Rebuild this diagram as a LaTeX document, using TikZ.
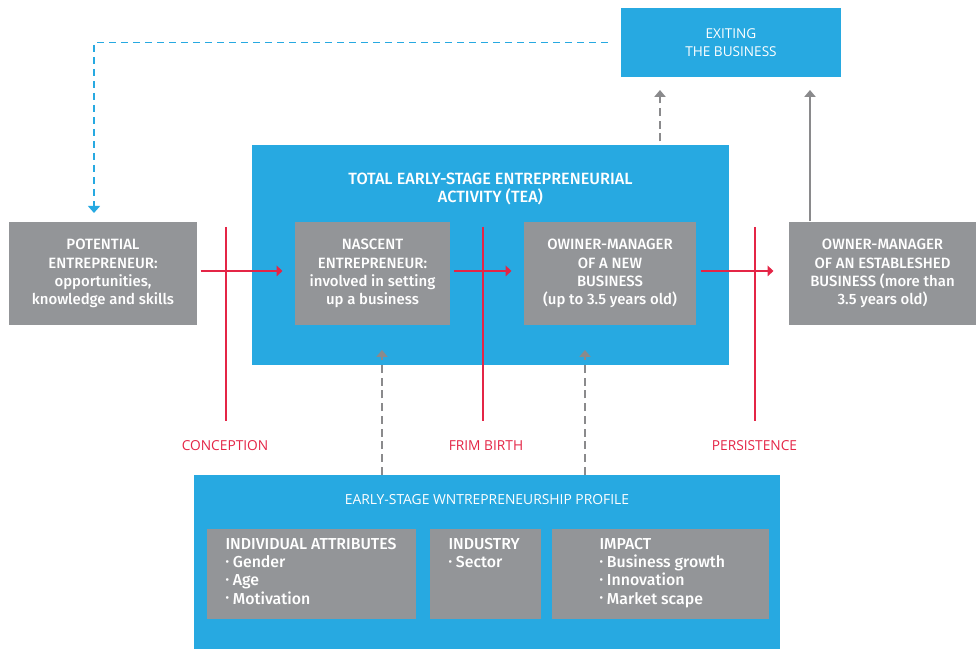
\documentclass[tikz,border=0pt]{standalone}
\usepackage{fontspec}
\setmainfont{Open Sans}
\newfontfamily\boxfont{Fira Sans}[BoldFont={Fira Sans Medium}]
\usepackage{xcolor}
\usetikzlibrary{arrows.meta}
\tikzset{every picture/.style={line width=0.75pt}}
\definecolor{teablue}{RGB}{39,169,225}
\definecolor{boxgray}{RGB}{147,149,152}
\definecolor{stagered}{RGB}{228,37,70}
\definecolor{linkgray}{RGB}{138,138,140}
\newcommand{\itemdot}{\raisebox{0.16em}{\scalebox{0.65}{\textbullet}}\ }

\begin{document}
\begin{tikzpicture}[x=0.75pt,y=0.75pt,yscale=-1,xscale=1,
  bluebox/.style={fill=teablue, inner sep=0pt, text=white, align=center, font=\fontsize{10.2}{13.5}\selectfont},
  graybox/.style={fill=boxgray, inner sep=0pt, text=white, align=center, font=\boxfont\bfseries\fontsize{11.2}{13.7}\selectfont},
  listtext/.style={anchor=north west, inner sep=0pt, text=white, align=left, font=\boxfont\bfseries\fontsize{11.9}{13.6}\selectfont},
  stagetext/.style={text=stagered, font=\fontsize{10.3}{12}\selectfont},
  stageline/.style={draw=stagered, line width=1pt},
  stagearrow/.style={draw=stagered, line width=1pt, -{Triangle[length=4.5pt,width=8pt]}},
  graylink/.style={draw=linkgray, line width=1pt, -{Triangle[length=5.25pt,width=8.5pt]}},
  graydash/.style={graylink, dash pattern=on 6pt off 3.5pt},
  bluedash/.style={draw=teablue, line width=1pt, dash pattern=on 5.25pt off 3.75pt, -{Triangle[length=5.25pt,width=9pt]}}
]
\useasboundingbox (0,0) rectangle (976,649);

% Blue boxes
\node (exit) [bluebox, minimum width=165pt, minimum height=51.75pt] at (731,42.5) {EXITING\\THE BUSINESS};
\node (tea) [bluebox, minimum width=357.75pt, minimum height=165pt] at (490.5,255) {};
\node (teatitle) [bluebox, fill=none, font=\boxfont\bfseries\fontsize{12.2}{13.5}\selectfont] at (490.5,189) {TOTAL EARLY-STAGE ENTREPRENEURIAL\\ACTIVITY (TEA)};
\node (profile) [bluebox, minimum width=439.5pt, minimum height=130.5pt] at (487,562) {};
\node (proftitle) [bluebox, fill=none, font=\fontsize{10.4}{12}\selectfont] at (487,500) {EARLY-STAGE WNTREPRENEURSHIP PROFILE};

% Gray boxes
\node (potential) [graybox, minimum width=141pt, minimum height=77.25pt] at (103,273.5) {POTENTIAL\\ENTREPRENEUR:\\opportunities,\\knowledge and skills};
\node (nascent) [graybox, minimum width=116.25pt, minimum height=77.25pt] at (372.5,273.5) {NASCENT\\ENTREPRENEUR:\\involved in setting\\up a business};
\node (newbiz) [graybox, minimum width=129pt, minimum height=77.25pt] at (610,273.5) {OWINER-MANAGER\\OF A NEW\\BUSINESS\\(up to 3.5 years old)};
\node (established) [graybox, minimum width=140.25pt, minimum height=77.25pt] at (882.5,273.5) {OWNER-MANAGER\\OF AN ESTABLESHED\\BUSINESS (more than\\3.5 years old)};

% Profile boxes
\node (indiv) [graybox, minimum width=156.75pt, minimum height=67.5pt] at (311.5,574) {};
\node (industry) [graybox, minimum width=83.25pt, minimum height=67.5pt] at (485.5,574) {};
\node (impact) [graybox, minimum width=162.75pt, minimum height=67.5pt] at (660.5,574) {};
\node (indivtext) [listtext] at (225,538) {INDIVIDUAL ATTRIBUTES\\\itemdot Gender\\\itemdot Age\\\itemdot Motivation};
\node (industrytext) [listtext] at (448,538) {INDUSTRY\\\itemdot Sector};
\node (impacttext) [listtext] at (599,538) {IMPACT\\\itemdot Business growth\\\itemdot Innovation\\\itemdot Market scape};

% Stage lines
\coordinate (conctop) at (226,227);
\coordinate (birthtop) at (483,227);
\coordinate (persisttop) at (755,227);
\node (conception) [stagetext] at (225,446) {CONCEPTION};
\node (birth) [stagetext] at (486,446) {FRIM BIRTH};
\node (persistence) [stagetext] at (754.5,446) {PERSISTENCE};
\draw [stageline] (conctop) -- (conctop |- 0,421);
\draw [stageline] (birthtop) -- (birthtop |- 0,421);
\draw [stageline] (persisttop) -- (persisttop |- 0,421);

% Stage arrows
\draw [stagearrow, shorten <=2.25pt, shorten >=9pt] ([yshift=-1.9pt]potential.east) -- ([yshift=-1.9pt]nascent.west);
\draw [stagearrow, shorten <=2.25pt, shorten >=9pt] ([yshift=-1.9pt]nascent.east) -- ([yshift=-1.9pt]newbiz.west);
\draw [stagearrow, shorten <=3pt, shorten >=11.25pt] ([yshift=-1.9pt]newbiz.east) -- ([yshift=-1.9pt]established.west);

% Exit links
\coordinate (exitin1) at (660,90);
\coordinate (exitin2) at (810,90);
\draw [graydash, shorten <=2.25pt] (exitin1 |- tea.north) -- (exitin1);
\draw [graylink] (exitin2 |- established.north) -- (exitin2);
\coordinate (loopdown) at (94,213);
\draw [bluedash, shorten <=9.75pt] (exit.west) -| (loopdown);

% Profile links
\coordinate (nascentin) at (382,350);
\coordinate (newbizin) at (585,350);
\draw [graydash] (nascentin |- profile.north) -- (nascentin);
\draw [graydash] (newbizin |- profile.north) -- (newbizin);
\end{tikzpicture}
\end{document}
